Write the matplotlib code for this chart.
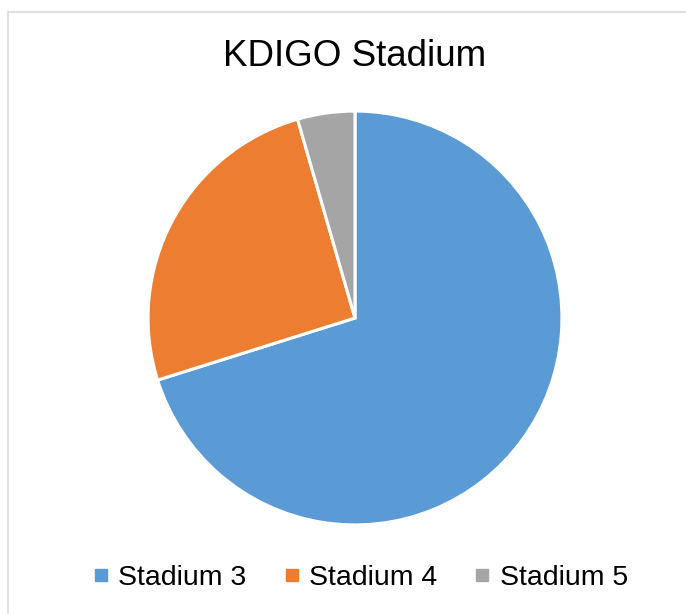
import matplotlib.pyplot as plt
from matplotlib.lines import Line2D
from matplotlib.patches import Rectangle

plt.rcParams['font.family'] = ['Liberation Sans', 'DejaVu Sans']

# KDIGO stage counts
labels = ['Stadium 3', 'Stadium 4', 'Stadium 5']
counts = [47, 17, 3]
colors = ['#5B9BD5', '#ED7D31', '#A5A5A5']

W, H = 686, 614
fig = plt.figure(figsize=(W / 100, H / 100), dpi=100)

# chart area frame (runs off the right and bottom edges)
fig.patches.append(Rectangle((8 / W, -0.1), 1.0, (H - 12) / H + 0.1,
                             transform=fig.transFigure, fill=False,
                             edgecolor='#d9d9d9', linewidth=1.2))

cx, cy, r = 355, 318, 209
ax = fig.add_axes([(cx - r) / W, (H - cy - r) / H, 2 * r / W, 2 * r / H])
ax.pie(counts, colors=colors, startangle=90, counterclock=False, radius=1,
       wedgeprops=dict(edgecolor='white', linewidth=2.2))
ax.set_xlim(-1.01, 1.01)
ax.set_ylim(-1.01, 1.01)
ax.set_aspect('equal')
ax.axis('off')

fig.text(355 / W, 1 - 56 / H, 'KDIGO Stadium', ha='center', va='center',
         fontsize=26.5, color='black')

handles = [Line2D([], [], marker='s', linestyle='none', markersize=8,
                  markerfacecolor=c, markeredgecolor=c) for c in colors]
fig.legend(handles, labels, loc='center', bbox_to_anchor=(360 / W, 1 - 578 / H),
           ncol=3, frameon=False, fontsize=20.5, handlelength=0.6,
           handletextpad=0.3, columnspacing=1.3)

fig.savefig('out.png', dpi=100)
